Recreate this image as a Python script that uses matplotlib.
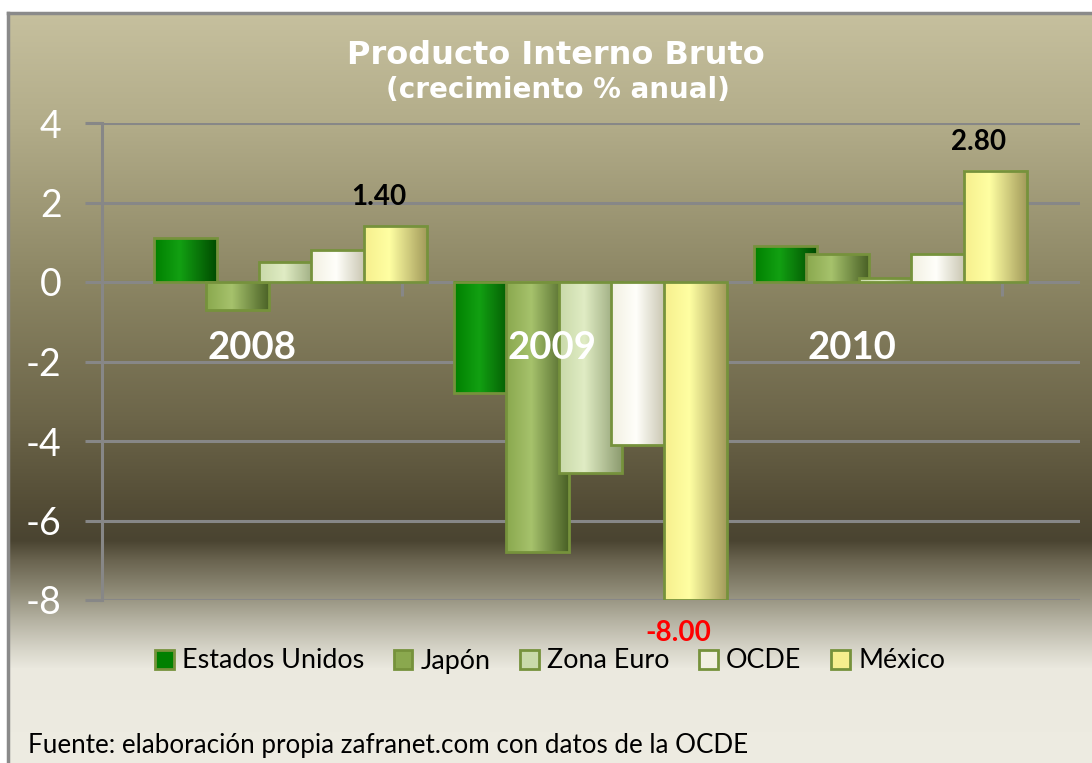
import numpy as np
import matplotlib.pyplot as plt
from matplotlib.colors import to_rgb, LinearSegmentedColormap
from matplotlib.patches import Patch

plt.rcParams['axes.unicode_minus'] = False

years = ['2008', '2009', '2010']
series = ['Estados Unidos', 'Japón', 'Zona Euro', 'OCDE', 'México']
values = {
    'Estados Unidos': [1.1, -2.8, 0.9],
    'Japón': [-0.7, -6.8, 0.7],
    'Zona Euro': [0.5, -4.8, 0.1],
    'OCDE': [0.8, -4.1, 0.7],
    'México': [1.4, -8.0, 2.8],
}
mexico_labels = ['1.40', '-8.00', '2.80']
label_colors = ['black', 'red', 'black']

# (mid, light, dark) for the cylinder-ish shading
shades = {
    'Estados Unidos': ('#008000', '#12a012', '#004a00'),
    'Japón': ('#8aa84e', '#a6c26c', '#4a6126'),
    'Zona Euro': ('#c9d9a9', '#e0ecc4', '#8d9c70'),
    'OCDE': ('#f2f0e2', '#fffffa', '#b9b59b'),
    'México': ('#f6ef8e', '#ffffa2', '#a49c5c'),
}
edge = '#76923c'

W, H = 1092, 763
fig = plt.figure(figsize=(W / 100, H / 100), dpi=100)
fig.patch.set_facecolor('white')

# background gradient (pixel coords)
bg = fig.add_axes([0, 0, 1, 1], zorder=0)
bg.set_xlim(0, W)
bg.set_ylim(H, 0)
bg.axis('off')
stops = [(13, '#c6c09e'), (120, '#b3ad8a'), (280, '#8c8664'), (420, '#6c6549'),
         (500, '#554e37'), (540, '#4a4431'), (560, '#6a6450'), (590, '#8e8a76'),
         (620, '#b5b2a2'), (650, '#d8d6ca'), (668, '#ebe9df'), (763, '#eeece2')]
ys = np.arange(13, H)
grad = np.zeros((len(ys), 1, 3))
for c in range(3):
    grad[:, 0, c] = np.interp(ys, [s[0] for s in stops], [to_rgb(s[1])[c] for s in stops])
bg.imshow(grad, extent=(8, W, H, 13), aspect='auto', interpolation='bilinear')
bg.plot([8, 8], [13, H], color='#8a8a8a', lw=2.5)
bg.plot([8, W], [13, 13], color='#8a8a8a', lw=2.5)

# main plot area
ax = fig.add_axes([102 / W, 1 - 600 / H, (1080 - 102) / W, (600 - 123) / H], zorder=1)
ax.patch.set_alpha(0)

offset, pitch, width = 0.172, 0.175, 0.21
x0 = np.arange(len(years))
for j, name in enumerate(series):
    mid, light, dark = shades[name]
    cmap = LinearSegmentedColormap.from_list(name, [(0, mid), (0.4, light), (1, dark)])
    prof = cmap(np.linspace(0, 1, 64))[None, :, :3]
    bars = ax.bar(x0 + offset + j * pitch, values[name], width=width, align='edge',
                  facecolor='none', edgecolor=edge, linewidth=2, zorder=3 + j * 0.1 + 0.05)
    for b in bars:
        x, y, w, h = b.get_x(), b.get_y(), b.get_width(), b.get_height()
        ax.imshow(prof, extent=(x, x + w, y, y + h), aspect='auto', zorder=3 + j * 0.1,
                  interpolation='bilinear')

# Mexico value labels
mex = values['México']
for i in range(len(years)):
    cx = x0[i] + offset + 4 * pitch + width / 2 - 0.055
    yy = mex[i] + 0.73 if mex[i] > 0 else mex[i] - 0.83
    ax.text(cx, yy, mexico_labels[i], ha='center', va='center', fontsize=20,
            fontweight='bold', color=label_colors[i], family='Lato', zorder=6)

# category labels inside the plot
for i, yr in enumerate(years):
    ax.text(x0[i] + 0.5, -1.67, yr, ha='center', va='center', fontsize=27.5,
            fontweight='bold', color='white', family='Lato', zorder=6)

ax.set_xlim(0, 3.26)
ax.set_ylim(-8, 4)
ax.set_yticks(range(-8, 5, 2))
ax.set_xticks([])
ax.yaxis.grid(True, color='#878787', lw=2.2, zorder=1)
ax.set_axisbelow(True)
for s in ['top', 'right', 'bottom']:
    ax.spines[s].set_visible(False)
ax.spines['left'].set_color('#878787')
ax.spines['left'].set_linewidth(2.2)
ax.tick_params(axis='y', length=12, width=2.2, color='#878787', labelcolor='white',
               labelsize=27, pad=17)
for t in ax.get_yticklabels():
    t.set_family('Lato')
ax.axhline(0, color='#878787', lw=2.2, zorder=1)
ax.vlines([1, 2, 3], -0.35, 0, color='#878787', lw=2.2, zorder=1)

# titles
fig.text(556 / W, 1 - 55 / H, 'Producto Interno Bruto', ha='center', va='center',
         fontsize=23, fontweight='bold', color='white', family='DejaVu Sans')
fig.text(558 / W, 1 - 90 / H, '(crecimiento % anual)', ha='center', va='center',
         fontsize=20, fontweight='bold', color='white', family='DejaVu Sans')

handles = [Patch(facecolor=shades[n][0], edgecolor=edge, linewidth=2) for n in series]
fig.legend(handles, series, loc='center', bbox_to_anchor=(550 / W, 1 - 661 / H), ncol=5,
           frameon=False, prop={'family': 'Lato', 'size': 19.4}, handlelength=0.7,
           handleheight=0.7, handletextpad=0.3, columnspacing=1.1)

fig.text(28 / W, 1 - 745 / H, 'Fuente: elaboración propia zafranet.com con datos de la OCDE',
         ha='left', va='center', fontsize=18.7, color='black', family='Lato')

fig.savefig('out.png', dpi=100)
